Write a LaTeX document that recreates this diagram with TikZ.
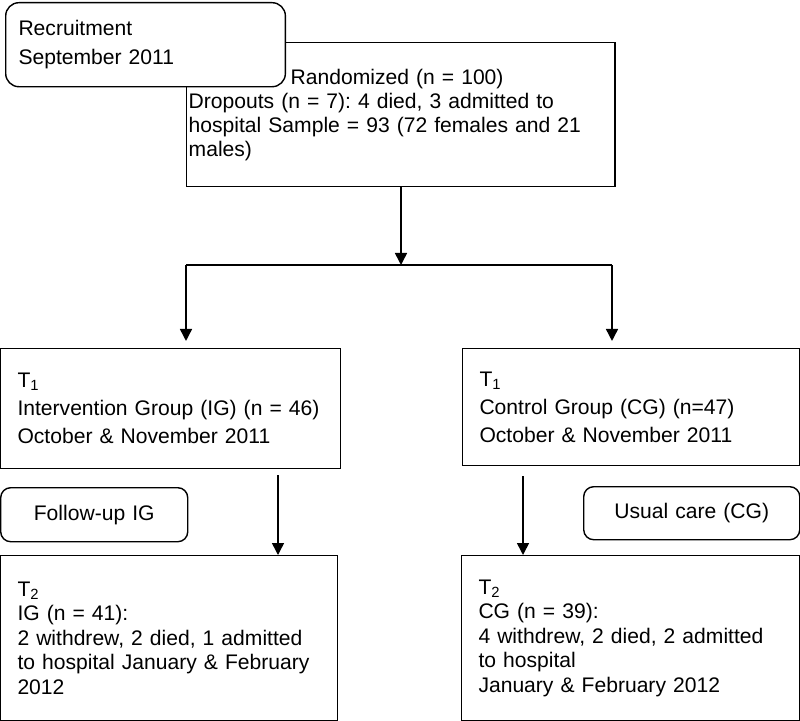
\documentclass[tikz,border=0pt]{standalone}
\usepackage{fontspec}
\setmainfont{Liberation Sans}
\usetikzlibrary{arrows.meta}
\frenchspacing

\tikzset{
	box/.style={draw, line width=1pt, rectangle, anchor=north west, align=left,
		inner xsep=.42cm, inner ysep=0pt, fill=white},
	rbox/.style={box, rounded corners=.25cm},
	arr/.style={-{Triangle[length=.3cm,width=.3cm]}, line width=1.1pt},
	txt/.style={font=\fontsize{15}{#1}\selectfont},
}

\begin{document}
\begin{tikzpicture}[x=.025cm, y=-.025cm]
	\useasboundingbox (0,0) rectangle (800,721);
	\node[box, inner xsep=.05cm, text width=10.6cm, minimum height=3.6cm, txt=17pt] (rand) at (186,42)
		{\hspace*{2.55cm}Randomized (n = 100)\\Dropouts (n = 7): 4 died, 3 admitted to\\hospital Sample = 93 (72 females and 21\\males)};
	\node[rbox, inner xsep=.32cm, text width=6.35cm, minimum height=2.1cm, rounded corners=.33cm, txt=21pt] (recr) at (5,2)
		{Recruitment\\September 2011};
	\node[box, text width=7.65cm, minimum height=3cm, txt=20pt] (t1ig) at (0,348)
		{T\textsubscript{1}\\Intervention Group (IG) (n = 46)\\October \& November 2011};
	\node[box, text width=7.575cm, minimum height=2.925cm, txt=20pt] (t1cg) at (462,348)
		{T\textsubscript{1}\\Control Group (CG) (n=47)\\October \& November 2011};
	\node[rbox, align=center, inner xsep=0pt, text width=4.675cm, minimum height=1.35cm, txt=18pt] (fu) at (0,487)
		{Follow-up IG};
	\node[rbox, align=center, inner xsep=0pt, text width=5.4cm, minimum height=1.325cm, txt=18pt] (uc) at (583,486)
		{Usual care (CG)};
	\node[box, text width=7.575cm, minimum height=4.125cm, txt=17.4pt] (t2ig) at (0,555)
		{T\textsubscript{2}\\IG (n = 41):\\2 withdrew, 2 died, 1 admitted\\to hospital January \& February\\2012};
	\node[box, text width=7.6cm, minimum height=4.125cm, txt=17.4pt] (t2cg) at (461,555)
		{T\textsubscript{2}\\CG (n = 39):\\4 withdrew, 2 died, 2 admitted\\to hospital\\January \& February 2012};
	\coordinate (split) at (401,265);
	\coordinate (splitL) at (186,265);
	\coordinate (splitR) at (612,265);
	\coordinate (igtop) at (278,475);
	\coordinate (cgtop) at (523,476);
	\draw[arr] (rand.south -| split) -- (split);
	\draw[line width=1.1pt] (splitL) -- (splitR);
	\draw[arr, shorten >=5] (splitL) -- (splitL |- t1ig.north);
	\draw[arr, shorten >=5] (splitR) -- (splitR |- t1cg.north);
	\draw[arr] (igtop) -- (igtop |- t2ig.north);
	\draw[arr] (cgtop) -- (cgtop |- t2cg.north);
\end{tikzpicture}
\end{document}
